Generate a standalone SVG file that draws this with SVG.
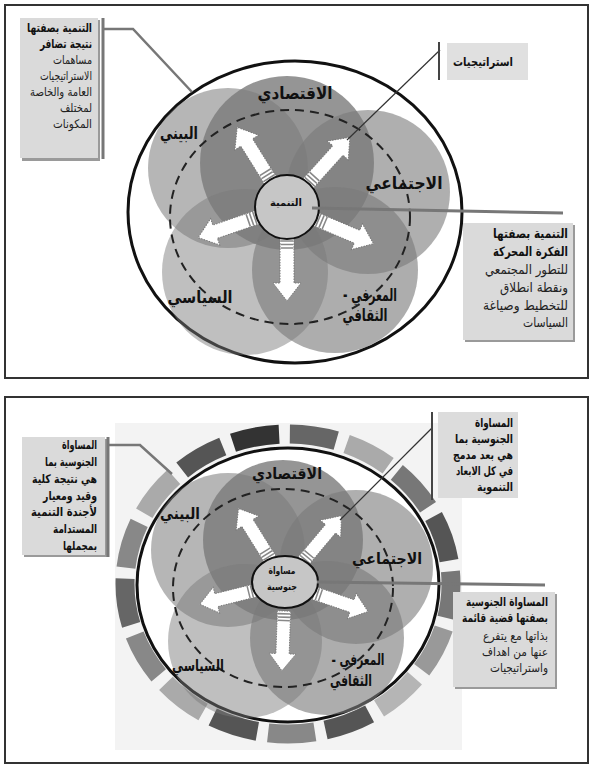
<svg xmlns="http://www.w3.org/2000/svg" xmlns:xlink="http://www.w3.org/1999/xlink" width="593" height="769" viewBox="0 0 593 769">
<style>
.frame{fill:#fff;stroke:#333;stroke-width:2}
.outer{fill:#fff;stroke:#111;stroke-width:3}
.petal{fill:#7a7a7a}
.dash{fill:none;stroke:#222;stroke-width:2;stroke-dasharray:9 6}
.core{fill:#c6c6c6;stroke:#111;stroke-width:2}
.arw{fill:#fff;stroke:#777;stroke-width:1;stroke-dasharray:1.5 1.2}
.stripe{fill:none;stroke:#888;stroke-width:1.6}
text{font-family:"DejaVu Sans",sans-serif;direction:rtl}
.lbl{font-weight:bold;font-size:17px;fill:#111;text-anchor:middle}
.lbl2{font-size:16px}
.core-t{font-weight:bold;font-size:10px;fill:#111;text-anchor:middle}
.box{fill:#dadada}
.shadow{fill:#9a9a9a}
.bt{font-size:12px;fill:#222;text-anchor:start}
.b{font-weight:bold;fill:#111}
.brk{stroke:#777;stroke-width:3;fill:none}
.brk2{stroke:#444;stroke-width:2;fill:none}
.conn{stroke:#777;stroke-width:2.5;fill:none}
.conn-thin{stroke:#333;stroke-width:1.2;fill:none}
.conn-h{stroke:#777;stroke-width:3;fill:none}
.seg{fill:none;stroke-width:19;stroke-dasharray:17.2 342.8}
</style>
<defs>
<g id="arrow">
<path class="arw" d="M0,-7 H45 V-14 L63,0 L45,14 V7 H0 Z"/>
<path class="stripe" d="M3,-6.5 V6.5 M6.5,-6.5 V6.5 M10,-6.5 V6.5"/>
</g>
</defs>

<!-- ===== Panel 1 ===== -->
<rect class="frame" x="5" y="5" width="583" height="373"/>
<g id="p1-ring"><ellipse class="outer" cx="295" cy="212" rx="167" ry="151"/></g>

<g id="p1-petal-environment"><circle class="petal" cx="228" cy="168" r="80" fill-opacity="0.55"/></g>
<g id="p1-petal-economic"><circle class="petal" cx="287" cy="163" r="87" fill-opacity="0.8"/></g>
<g id="p1-petal-social"><circle class="petal" cx="368" cy="192" r="82" fill-opacity="0.6"/></g>
<g id="p1-petal-cultural"><circle class="petal" cx="335" cy="270" r="83" fill-opacity="0.62"/></g>
<g id="p1-petal-political"><circle class="petal" cx="245" cy="272" r="83" fill-opacity="0.48"/></g>
<ellipse class="dash" cx="290" cy="217" rx="120" ry="107"/>

<g id="p1-arrows">
<use xlink:href="#arrow" transform="translate(287,207) rotate(-122) translate(31,0)"/>
<use xlink:href="#arrow" transform="translate(287,207) rotate(-48) translate(31,0)"/>
<use xlink:href="#arrow" transform="translate(287,207) rotate(23) translate(31,0)"/>
<use xlink:href="#arrow" transform="translate(287,207) rotate(90) translate(31,0)"/>
<use xlink:href="#arrow" transform="translate(287,207) rotate(161) translate(31,0)"/>
</g>

<g id="p1-core"><circle class="core" cx="287" cy="207" r="32"/><text class="core-t" x="286" y="206" textLength="32" lengthAdjust="spacingAndGlyphs">التنمية</text></g>

<g id="p1-labels">
<text class="lbl" x="295" y="99" textLength="75" lengthAdjust="spacingAndGlyphs">الاقتصادي</text>
<text class="lbl" x="179" y="139" textLength="38" lengthAdjust="spacingAndGlyphs">البيني</text>
<text class="lbl" x="404" y="189" textLength="77" lengthAdjust="spacingAndGlyphs">الاجتماعي</text>
<text class="lbl" x="370" y="301" textLength="54" lengthAdjust="spacingAndGlyphs">المعرفي -</text>
<text class="lbl" x="365" y="321" textLength="45" lengthAdjust="spacingAndGlyphs">الثقافي</text>
<text class="lbl" x="200" y="303" textLength="65" lengthAdjust="spacingAndGlyphs">السياسي</text>
</g>

<g id="p1-connectors">
<polyline class="conn" points="103,29 133,29 192,92"/>
<line class="conn-thin" x1="440" y1="50" x2="347" y2="140"/>
<line class="conn-h" x1="312" y1="208" x2="563" y2="213"/>
</g>

<g id="p1-note-left">
<rect class="shadow" x="22" y="20" width="78" height="141"/>
<rect class="box" x="20" y="18" width="78" height="140"/>
<line class="brk" x1="103" y1="18" x2="103" y2="159"/>
<text class="bt b" x="92" y="32" textLength="65" lengthAdjust="spacingAndGlyphs">التنمية بصفتها</text>
<text class="bt b" x="92" y="48" textLength="52" lengthAdjust="spacingAndGlyphs">نتيجة تضافر</text>
<text class="bt" x="92" y="64" textLength="39" lengthAdjust="spacingAndGlyphs">مساهمات</text>
<text class="bt" x="92" y="80" textLength="52" lengthAdjust="spacingAndGlyphs">الاستراتيجيات</text>
<text class="bt" x="92" y="96" textLength="62" lengthAdjust="spacingAndGlyphs">العامة والخاصة</text>
<text class="bt" x="92" y="112" textLength="32" lengthAdjust="spacingAndGlyphs">لمختلف</text>
<text class="bt" x="92" y="128" textLength="39" lengthAdjust="spacingAndGlyphs">المكونات</text>
</g>

<g id="p1-note-strategies">
<rect fill="#e0e0e0" x="447" y="43" width="81" height="37"/>
<line class="brk2" x1="439" y1="42" x2="439" y2="80"/>
<text class="bt b" x="513" y="66" textLength="60" lengthAdjust="spacingAndGlyphs">استراتيجيات</text>
</g>

<g id="p1-note-right">
<rect class="shadow" x="465" y="225" width="110" height="117"/>
<rect class="box" x="463" y="223" width="110" height="117"/>
<text class="bt b" x="568" y="238" style="font-size:13px" textLength="75" lengthAdjust="spacingAndGlyphs">التنمية بصفتها</text>
<text class="bt b" x="568" y="256" style="font-size:13px" textLength="75" lengthAdjust="spacingAndGlyphs">الفكرة المحركة</text>
<text class="bt" x="568" y="274" style="font-size:13px" textLength="83" lengthAdjust="spacingAndGlyphs">للتطور المجتمعي</text>
<text class="bt" x="568" y="292" style="font-size:13px" textLength="68" lengthAdjust="spacingAndGlyphs">ونقطة انطلاق</text>
<text class="bt" x="568" y="310" style="font-size:13px" textLength="85" lengthAdjust="spacingAndGlyphs">للتخطيط وصياغة</text>
<text class="bt" x="568" y="327" style="font-size:13px" textLength="45" lengthAdjust="spacingAndGlyphs">السياسات</text>
</g>

<!-- ===== Panel 2 ===== -->
<rect class="frame" x="5" y="397" width="583" height="366"/>
<rect fill="#f3f3f3" x="115" y="423" width="347" height="327"/>
<g id="p2-segments">
<ellipse class="seg" stroke="#777" cx="288" cy="584" rx="163" ry="150" pathLength="360" stroke-dashoffset="4.6"/>
<ellipse class="seg" stroke="#999" cx="288" cy="584" rx="163" ry="150" pathLength="360" stroke-dashoffset="-16.58"/>
<ellipse class="seg" stroke="#b5b5b5" cx="288" cy="584" rx="163" ry="150" pathLength="360" stroke-dashoffset="-37.75"/>
<ellipse class="seg" stroke="#555" cx="288" cy="584" rx="163" ry="150" pathLength="360" stroke-dashoffset="-58.93"/>
<ellipse class="seg" stroke="#888" cx="288" cy="584" rx="163" ry="150" pathLength="360" stroke-dashoffset="-80.11"/>
<ellipse class="seg" stroke="#555" cx="288" cy="584" rx="163" ry="150" pathLength="360" stroke-dashoffset="-101.28"/>
<ellipse class="seg" stroke="#aaa" cx="288" cy="584" rx="163" ry="150" pathLength="360" stroke-dashoffset="-122.46"/>
<ellipse class="seg" stroke="#888" cx="288" cy="584" rx="163" ry="150" pathLength="360" stroke-dashoffset="-143.64"/>
<ellipse class="seg" stroke="#666" cx="288" cy="584" rx="163" ry="150" pathLength="360" stroke-dashoffset="-164.81"/>
<ellipse class="seg" stroke="#888" cx="288" cy="584" rx="163" ry="150" pathLength="360" stroke-dashoffset="-185.99"/>
<ellipse class="seg" stroke="#aaa" cx="288" cy="584" rx="163" ry="150" pathLength="360" stroke-dashoffset="-207.16"/>
<ellipse class="seg" stroke="#555" cx="288" cy="584" rx="163" ry="150" pathLength="360" stroke-dashoffset="-228.34"/>
<ellipse class="seg" stroke="#333" cx="288" cy="584" rx="163" ry="150" pathLength="360" stroke-dashoffset="-249.52"/>
<ellipse class="seg" stroke="#666" cx="288" cy="584" rx="163" ry="150" pathLength="360" stroke-dashoffset="-270.69"/>
<ellipse class="seg" stroke="#aaa" cx="288" cy="584" rx="163" ry="150" pathLength="360" stroke-dashoffset="-291.87"/>
<ellipse class="seg" stroke="#777" cx="288" cy="584" rx="163" ry="150" pathLength="360" stroke-dashoffset="-313.05"/>
<ellipse class="seg" stroke="#555" cx="288" cy="584" rx="163" ry="150" pathLength="360" stroke-dashoffset="-334.22"/>
</g>
<g id="p2-ring"><ellipse class="outer" cx="288" cy="585" rx="151" ry="137"/></g>

<g id="p2-petal-environment"><circle class="petal" cx="228" cy="550" r="77" fill-opacity="0.55"/></g>
<g id="p2-petal-economic"><circle class="petal" cx="283" cy="540" r="80" fill-opacity="0.8"/></g>
<g id="p2-petal-social"><circle class="petal" cx="356" cy="567" r="77" fill-opacity="0.6"/></g>
<g id="p2-petal-cultural"><circle class="petal" cx="327" cy="638" r="77" fill-opacity="0.62"/></g>
<g id="p2-petal-political"><circle class="petal" cx="245" cy="641" r="77" fill-opacity="0.48"/></g>
<ellipse class="dash" cx="283" cy="588" rx="110" ry="99"/>

<g id="p2-arrows">
<use xlink:href="#arrow" transform="translate(285,583) rotate(-122) translate(28,0) scale(0.95)"/>
<use xlink:href="#arrow" transform="translate(285,583) rotate(-50) translate(28,0) scale(0.95)"/>
<use xlink:href="#arrow" transform="translate(285,583) rotate(19) translate(28,0) scale(0.95)"/>
<use xlink:href="#arrow" transform="translate(285,583) rotate(92) translate(28,0) scale(0.95)"/>
<use xlink:href="#arrow" transform="translate(285,583) rotate(166) translate(28,0) scale(0.95)"/>
</g>

<g id="p2-core"><ellipse class="core" cx="285" cy="582" rx="33" ry="26"/>
<text class="core-t" x="282" y="574" textLength="27" lengthAdjust="spacingAndGlyphs">مساواة</text>
<text class="core-t" x="282" y="590" textLength="30" lengthAdjust="spacingAndGlyphs">جنوسية</text></g>

<g id="p2-labels">
<text class="lbl lbl2" x="287" y="479" textLength="70" lengthAdjust="spacingAndGlyphs">الاقتصادي</text>
<text class="lbl lbl2" x="180" y="519" textLength="40" lengthAdjust="spacingAndGlyphs">البيني</text>
<text class="lbl lbl2" x="387" y="564" textLength="70" lengthAdjust="spacingAndGlyphs">الاجتماعي</text>
<text class="lbl lbl2" x="358" y="665" textLength="53" lengthAdjust="spacingAndGlyphs">المعرفي -</text>
<text class="lbl lbl2" x="351" y="686" textLength="42" lengthAdjust="spacingAndGlyphs">الثقافي</text>
<text class="lbl lbl2" x="198" y="671" textLength="52" lengthAdjust="spacingAndGlyphs">السياسي</text>
</g>

<g id="p2-connectors">
<polyline class="conn" points="108,445 140,445 172,474"/>
<line class="conn-thin" x1="432" y1="428" x2="340" y2="520"/>
<line class="conn-h" x1="317" y1="582" x2="545" y2="585"/>
</g>

<g id="p2-note-left">
<rect class="shadow" x="24" y="439" width="83" height="118"/>
<rect class="box" x="22" y="437" width="83" height="118"/>
<line class="brk" x1="108" y1="437" x2="108" y2="557"/>
<text class="bt b" x="97" y="449" textLength="35" lengthAdjust="spacingAndGlyphs">المساواة</text>
<text class="bt b" x="97" y="466" textLength="52" lengthAdjust="spacingAndGlyphs">الجنوسية بما</text>
<text class="bt b" x="97" y="483" textLength="65" lengthAdjust="spacingAndGlyphs">هي نتيجة كلية</text>
<text class="bt b" x="97" y="500" textLength="54" lengthAdjust="spacingAndGlyphs">وقيد ومعيار</text>
<text class="bt b" x="97" y="516" textLength="66" lengthAdjust="spacingAndGlyphs">لأجندة التنمية</text>
<text class="bt b" x="97" y="533" textLength="44" lengthAdjust="spacingAndGlyphs">المستدامة</text>
<text class="bt b" x="97" y="550" textLength="34" lengthAdjust="spacingAndGlyphs">بمجملها</text>
</g>

<g id="p2-note-top">
<rect fill="#dcdcdc" x="438" y="412" width="80" height="86"/>
<line class="brk2" x1="432" y1="412" x2="432" y2="500"/>
<text class="bt b" x="513" y="427" textLength="38" lengthAdjust="spacingAndGlyphs">المساواة</text>
<text class="bt b" x="513" y="443" textLength="58" lengthAdjust="spacingAndGlyphs">الجنوسية بما</text>
<text class="bt b" x="513" y="459" textLength="60" lengthAdjust="spacingAndGlyphs">هي بعد مدمج</text>
<text class="bt b" x="513" y="475" textLength="57" lengthAdjust="spacingAndGlyphs">في كل الابعاد</text>
<text class="bt b" x="513" y="491" textLength="36" lengthAdjust="spacingAndGlyphs">التنموية</text>
</g>

<g id="p2-note-right">
<rect class="shadow" x="455" y="594" width="102" height="95"/>
<rect class="box" x="453" y="592" width="102" height="95"/>
<text class="bt b" x="548" y="606" textLength="82" lengthAdjust="spacingAndGlyphs">المساواة الجنوسية</text>
<text class="bt b" x="548" y="622" textLength="86" lengthAdjust="spacingAndGlyphs">بصفتها قضية قائمة</text>
<text class="bt" x="548" y="640" textLength="65" lengthAdjust="spacingAndGlyphs">بذاتها مع يتفرع</text>
<text class="bt" x="548" y="656" textLength="66" lengthAdjust="spacingAndGlyphs">عنها من اهداف</text>
<text class="bt" x="548" y="672" textLength="58" lengthAdjust="spacingAndGlyphs">واستراتيجيات</text>
</g>
</svg>
